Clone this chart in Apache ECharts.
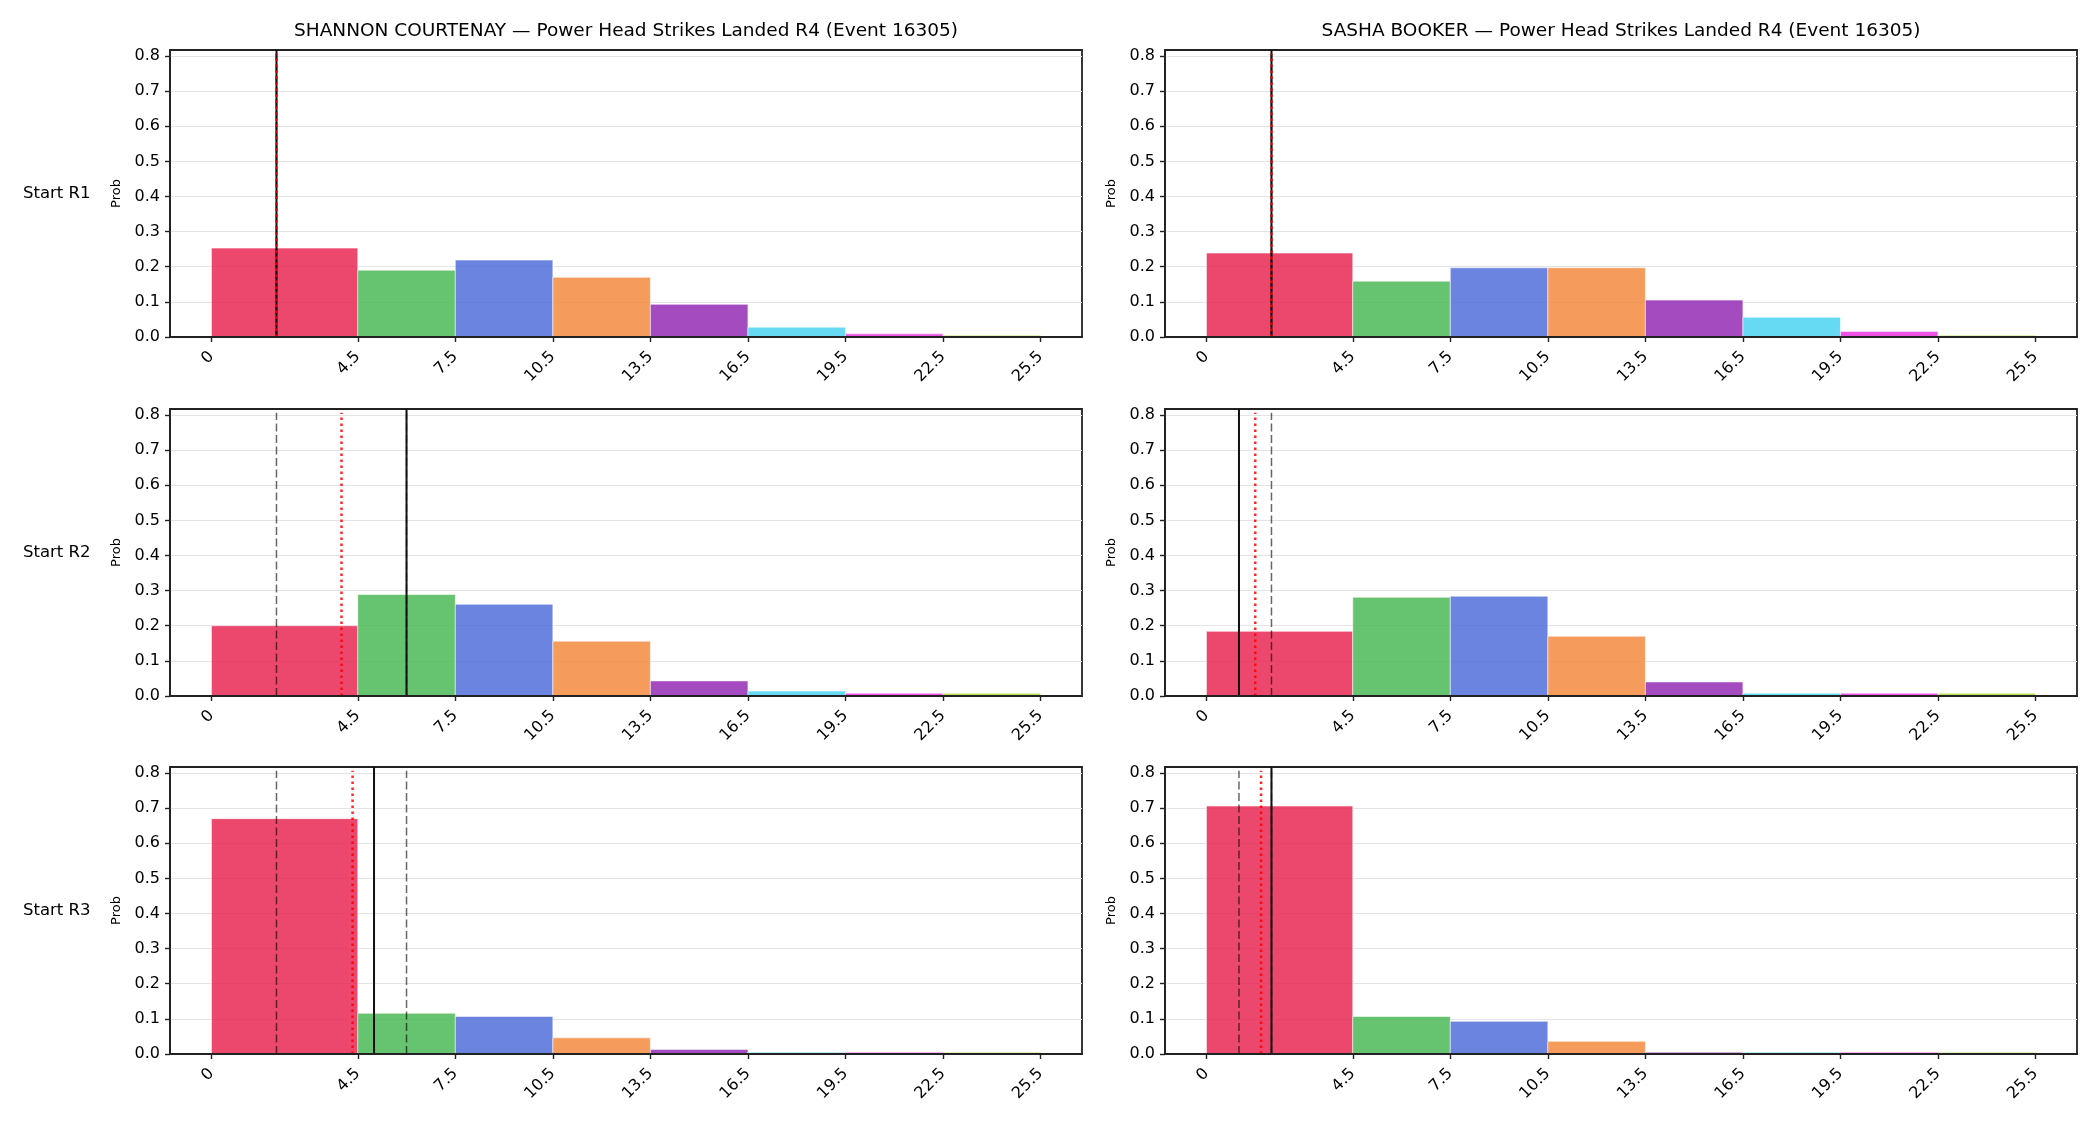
<!DOCTYPE html>
<html>
<head>
<meta charset="utf-8">
<script src="https://cdn.jsdelivr.net/npm/echarts@6/dist/echarts.min.js"></script>
<style>
  html, body { margin: 0; padding: 0; background: #fff; }
  #main { width: 2100px; height: 1125px; }
</style>
</head>
<body>
<div id="main"></div>
<script>
const binEdges = [0, 4.5, 7.5, 10.5, 13.5, 16.5, 19.5, 22.5, 25.5]
const xTicks = [0, 4.5, 7.5, 10.5, 13.5, 16.5, 19.5, 22.5, 25.5]
const yTicks = [0, 0.1, 0.2, 0.3, 0.4, 0.5, 0.6, 0.7, 0.8]
const rowLabels = ['Start R1', 'Start R2', 'Start R3']
const fighters = ['SHANNON COURTENAY', 'SASHA BOOKER']
const titleSuffix = ' — Power Head Strikes Landed R4 (Event 16305)'

// probability per bin, one array per start round
const courtenayR1 = [0.253, 0.190, 0.219, 0.170, 0.093, 0.028, 0.009, 0.005]
const courtenayR2 = [0.200, 0.289, 0.261, 0.156, 0.043, 0.014, 0.008, 0.008]
const courtenayR3 = [0.670, 0.116, 0.107, 0.046, 0.013, 0.005, 0.005, 0.005]
const bookerR1 = [0.239, 0.159, 0.197, 0.197, 0.105, 0.056, 0.016, 0.005]
const bookerR2 = [0.184, 0.281, 0.284, 0.170, 0.040, 0.008, 0.008, 0.008]
const bookerR3 = [0.706, 0.107, 0.093, 0.036, 0.005, 0.005, 0.005, 0.005]

// vertical markers (solid black, red dotted, grey dashed pair)
const courtenaySolid = [2, 6, 5]
const courtenayDotted = [2, 4, 4.34]
const courtenayDashed = [[2, 2], [2, 6], [2, 6]]
const bookerSolid = [2, 1, 2]
const bookerDotted = [2, 1.5, 1.68]
const bookerDashed = [[2, 2], [1, 2], [1, 2]]

const binColors = [
  'rgba(233,40,84,0.85)', 'rgba(75,184,86,0.85)', 'rgba(81,110,217,0.85)', 'rgba(243,138,63,0.85)',
  'rgba(149,43,181,0.85)', 'rgba(75,211,241,0.85)', 'rgba(235,55,226,0.85)', 'rgba(171,218,61,0.85)'
]

const xMin = -1.275
const xMax = 26.775
const yMax = 0.817
const markTop = 0.806
const font = 'DejaVu Sans'

const rowTops = [50, 409, 767]
const colLefts = [170, 1165]
const plotW = 912
const plotH = 287

const panels = [
  { probs: [courtenayR1, courtenayR2, courtenayR3], solid: courtenaySolid, dotted: courtenayDotted, dashed: courtenayDashed },
  { probs: [bookerR1, bookerR2, bookerR3], solid: bookerSolid, dotted: bookerDotted, dashed: bookerDashed }
]

let chart = echarts.init(document.getElementById('main'), null, { renderer: 'canvas' })

let grid = [], xAxis = [], yAxis = [], series = [], graphic = []

function vline (idx, x, top, style) {
  return {
    type: 'line',
    xAxisIndex: idx,
    yAxisIndex: idx,
    data: [[x, 0], [x, top]],
    symbol: 'none',
    silent: true,
    animation: false,
    lineStyle: style,
    z: 4
  }
}

for (let c = 0; c < 2; c++) {
  let cx = colLefts[c] + plotW / 2
  graphic.push({
    type: 'text', x: cx, y: 31,
    style: { text: fighters[c] + titleSuffix, font: '18.5px "' + font + '"', fill: '#000',
      align: 'center', verticalAlign: 'middle', textAlign: 'center', textVerticalAlign: 'middle' }
  })
  for (let r = 0; r < 3; r++) {
    let idx = grid.length
    let cy = rowTops[r] + plotH / 2
    grid.push({
      left: colLefts[c], top: rowTops[r], width: plotW, height: plotH,
      show: true, borderColor: '#222', borderWidth: 1.8, backgroundColor: 'transparent'
    })
    xAxis.push({
      type: 'value', gridIndex: idx, min: xMin, max: xMax, z: 5,
      axisLine: { show: true, onZero: false, lineStyle: { color: '#222', width: 1.8 } },
      axisTick: { show: true, length: 5, customValues: xTicks, lineStyle: { color: '#222', width: 1.4 } },
      axisLabel: {
        customValues: xTicks, rotate: 45, margin: 17, fontSize: 16, fontFamily: font, color: '#000',
        formatter: v => String(v)
      },
      splitLine: { show: false }
    })
    yAxis.push({
      type: 'value', gridIndex: idx, min: 0, max: yMax, interval: 0.1,
      axisLine: { show: true, onZero: false, lineStyle: { color: '#222', width: 1.8 } },
      axisTick: { show: true, length: 5, customValues: yTicks, lineStyle: { color: '#222', width: 1.4 } },
      axisLabel: {
        customValues: yTicks, margin: 10, fontSize: 16, fontFamily: font, color: '#000',
        formatter: v => v.toFixed(1)
      },
      splitLine: { show: true, lineStyle: { color: '#e4e4e4', width: 1 } }
    })

    let probs = panels[c].probs[r]
    let bars = probs.map((p, i) => [binEdges[i], binEdges[i + 1], p, i])
    series.push({
      type: 'custom',
      xAxisIndex: idx,
      yAxisIndex: idx,
      data: bars,
      encode: { x: [0, 1], y: 2 },
      animation: false,
      z: 2,
      renderItem: function (params, api) {
        let p0 = api.coord([api.value(0), api.value(2)])
        let p1 = api.coord([api.value(1), 0])
        return {
          type: 'rect',
          shape: { x: p0[0], y: p0[1], width: p1[0] - p0[0], height: p1[1] - p0[1] },
          style: { fill: binColors[api.value(3)], stroke: 'rgba(255,255,255,0.9)', lineWidth: 0.6 }
        }
      }
    })

    panels[c].dashed[r].forEach(x => {
      series.push(vline(idx, x, markTop, { color: 'rgba(0,0,0,0.6)', width: 1.5, type: [8, 3.5] }))
    })
    series.push(vline(idx, panels[c].solid[r], yMax, { color: '#111', width: 2, type: 'solid' }))
    series.push(vline(idx, panels[c].dotted[r], markTop, { color: 'rgba(255,0,0,0.85)', width: 2.5, type: [2.5, 3.5] }))

    // y label "Prob"
    graphic.push({
      type: 'text', x: colLefts[c] - 53, y: cy, rotation: Math.PI / 2,
      style: { text: 'Prob', font: '13px "' + font + '"', fill: '#000',
        align: 'center', verticalAlign: 'middle', textAlign: 'center', textVerticalAlign: 'middle' }
    })
    if (c === 0) {
      graphic.push({
        type: 'text', x: 23, y: cy,
        style: { text: rowLabels[r], font: '16.5px "' + font + '"', fill: '#000',
          align: 'left', verticalAlign: 'middle', textAlign: 'left', textVerticalAlign: 'middle' }
      })
    }
  }
}

chart.setOption({
  backgroundColor: '#fff',
  animation: false,
  grid: grid,
  xAxis: xAxis,
  yAxis: yAxis,
  series: series,
  graphic: graphic
})
</script>
</body>
</html>
